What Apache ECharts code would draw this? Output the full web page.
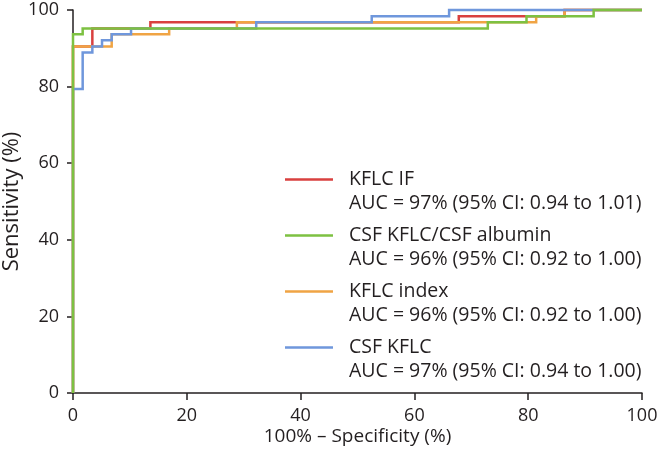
<!DOCTYPE html>
<html>
<head>
<meta charset="utf-8">
<script src="https://cdn.jsdelivr.net/npm/echarts@6/dist/echarts.min.js"></script>
<style>
  html, body { margin: 0; padding: 0; background: #fff; }
  #chart { width: 668px; height: 462px; }
</style>
</head>
<body>
<div id="chart"></div>
<script>
// ROC curves: [100% - specificity, sensitivity]
const kflcIF = [[0,0],[0,90.5],[3.4,90.5],[3.4,95.2],[13.6,95.2],[13.6,96.8],[67.8,96.8],[67.8,98.4],[86.4,98.4],[86.4,100],[100,100]];
const csfRatio = [[0,0],[0,93.7],[1.7,93.7],[1.7,95.2],[72.9,95.2],[72.9,96.8],[79.7,96.8],[79.7,98.4],[91.5,98.4],[91.5,100],[100,100]];
const kflcIndex = [[0,0],[0,90.5],[6.8,90.5],[6.8,93.7],[16.9,93.7],[16.9,95.2],[28.8,95.2],[28.8,96.8],[81.4,96.8],[81.4,98.4],[86.4,98.4],[86.4,100],[100,100]];
const csfKflc = [[0,0],[0,79.4],[1.7,79.4],[1.7,88.9],[3.4,88.9],[3.4,90.5],[5.1,90.5],[5.1,92.1],[6.8,92.1],[6.8,93.7],[10.2,93.7],[10.2,95.2],[32.2,95.2],[32.2,96.8],[52.5,96.8],[52.5,98.4],[66.1,98.4],[66.1,100],[100,100]];

const seriesNames = ['KFLC IF', 'CSF KFLC/CSF albumin', 'KFLC index', 'CSF KFLC'];
const aucTexts = ['AUC = 97% (95% CI: 0.94 to 1.01)', 'AUC = 96% (95% CI: 0.92 to 1.00)', 'AUC = 96% (95% CI: 0.92 to 1.00)', 'AUC = 97% (95% CI: 0.94 to 1.00)'];
const colors = ['#d9403f', '#7dc142', '#f0a444', '#6f97dc'];
const xTicks = [0, 20, 40, 60, 80, 100];
const yTicks = [0, 20, 40, 60, 80, 100];

const dataByName = {
  'KFLC IF': kflcIF,
  'CSF KFLC/CSF albumin': csfRatio,
  'KFLC index': kflcIndex,
  'CSF KFLC': csfKflc
};
// drawing order (bottom to top)
const drawOrder = ['KFLC IF', 'KFLC index', 'CSF KFLC', 'CSF KFLC/CSF albumin'];

const font = '"Open Sans", "Noto Sans", sans-serif';
const textColor = '#231f20';
const iconPath = 'path://M0,10.25H48V12.75H0Z M59,0h0.01v0.01h-0.01Z M59,47h0.01v0.01h-0.01Z';

const chart = echarts.init(document.getElementById('chart'), null, { renderer: 'canvas' });
chart.setOption({
  animation: false,
  backgroundColor: '#ffffff',
  grid: { left: 73, right: 26, top: 10, bottom: 69, containLabel: false, outerBoundsMode: 'none' },
  legend: {
    orient: 'vertical',
    left: 280,
    top: 163,
    itemWidth: 59,
    itemHeight: 47,
    itemGap: 9,
    selectedMode: false,
    data: seriesNames.map((n, i) => ({
      name: n,
      icon: iconPath,
      itemStyle: { color: colors[i], borderWidth: 0 }
    })),
    formatter: function (name) {
      return name + '\n' + aucTexts[seriesNames.indexOf(name)];
    },
    textStyle: { fontFamily: font, fontSize: 19.5, lineHeight: 23.5, color: textColor }
  },
  xAxis: {
    type: 'value', min: 0, max: 100, interval: 20,
    name: '100% \u2013 Specificity (%)',
    nameLocation: 'middle', nameGap: 34, nameMoveOverlap: false,
    nameTextStyle: { fontFamily: font, fontSize: 19, color: textColor },
    axisLine: { show: true, onZero: false, lineStyle: { color: textColor, width: 1.5 } },
    axisTick: { show: true, inside: false, length: 7, lineStyle: { color: textColor, width: 1.5 } },
    axisLabel: { fontFamily: font, fontSize: 18, color: textColor, margin: 14,
      formatter: v => xTicks.includes(v) ? String(v) : '' },
    splitLine: { show: false }
  },
  yAxis: {
    type: 'value', min: 0, max: 100, interval: 20,
    name: 'Sensitivity (%)',
    nameLocation: 'middle', nameGap: 50, nameRotate: 90, nameMoveOverlap: false,
    nameTextStyle: { fontFamily: font, fontSize: 22, color: textColor },
    axisLine: { show: true, onZero: false, lineStyle: { color: textColor, width: 1.5 } },
    axisTick: { show: true, inside: false, length: 6, lineStyle: { color: textColor, width: 1.5 } },
    axisLabel: { fontFamily: font, fontSize: 18, color: textColor, margin: 14,
      formatter: v => yTicks.includes(v) ? String(v) : '' },
    splitLine: { show: false }
  },
  series: drawOrder.map(n => ({
    name: n,
    type: 'line',
    data: dataByName[n],
    showSymbol: false,
    symbol: 'none',
    clip: false,
    color: colors[seriesNames.indexOf(n)],
    lineStyle: { width: 2.5, color: colors[seriesNames.indexOf(n)], join: 'miter' }
  }))
});
</script>
</body>
</html>
